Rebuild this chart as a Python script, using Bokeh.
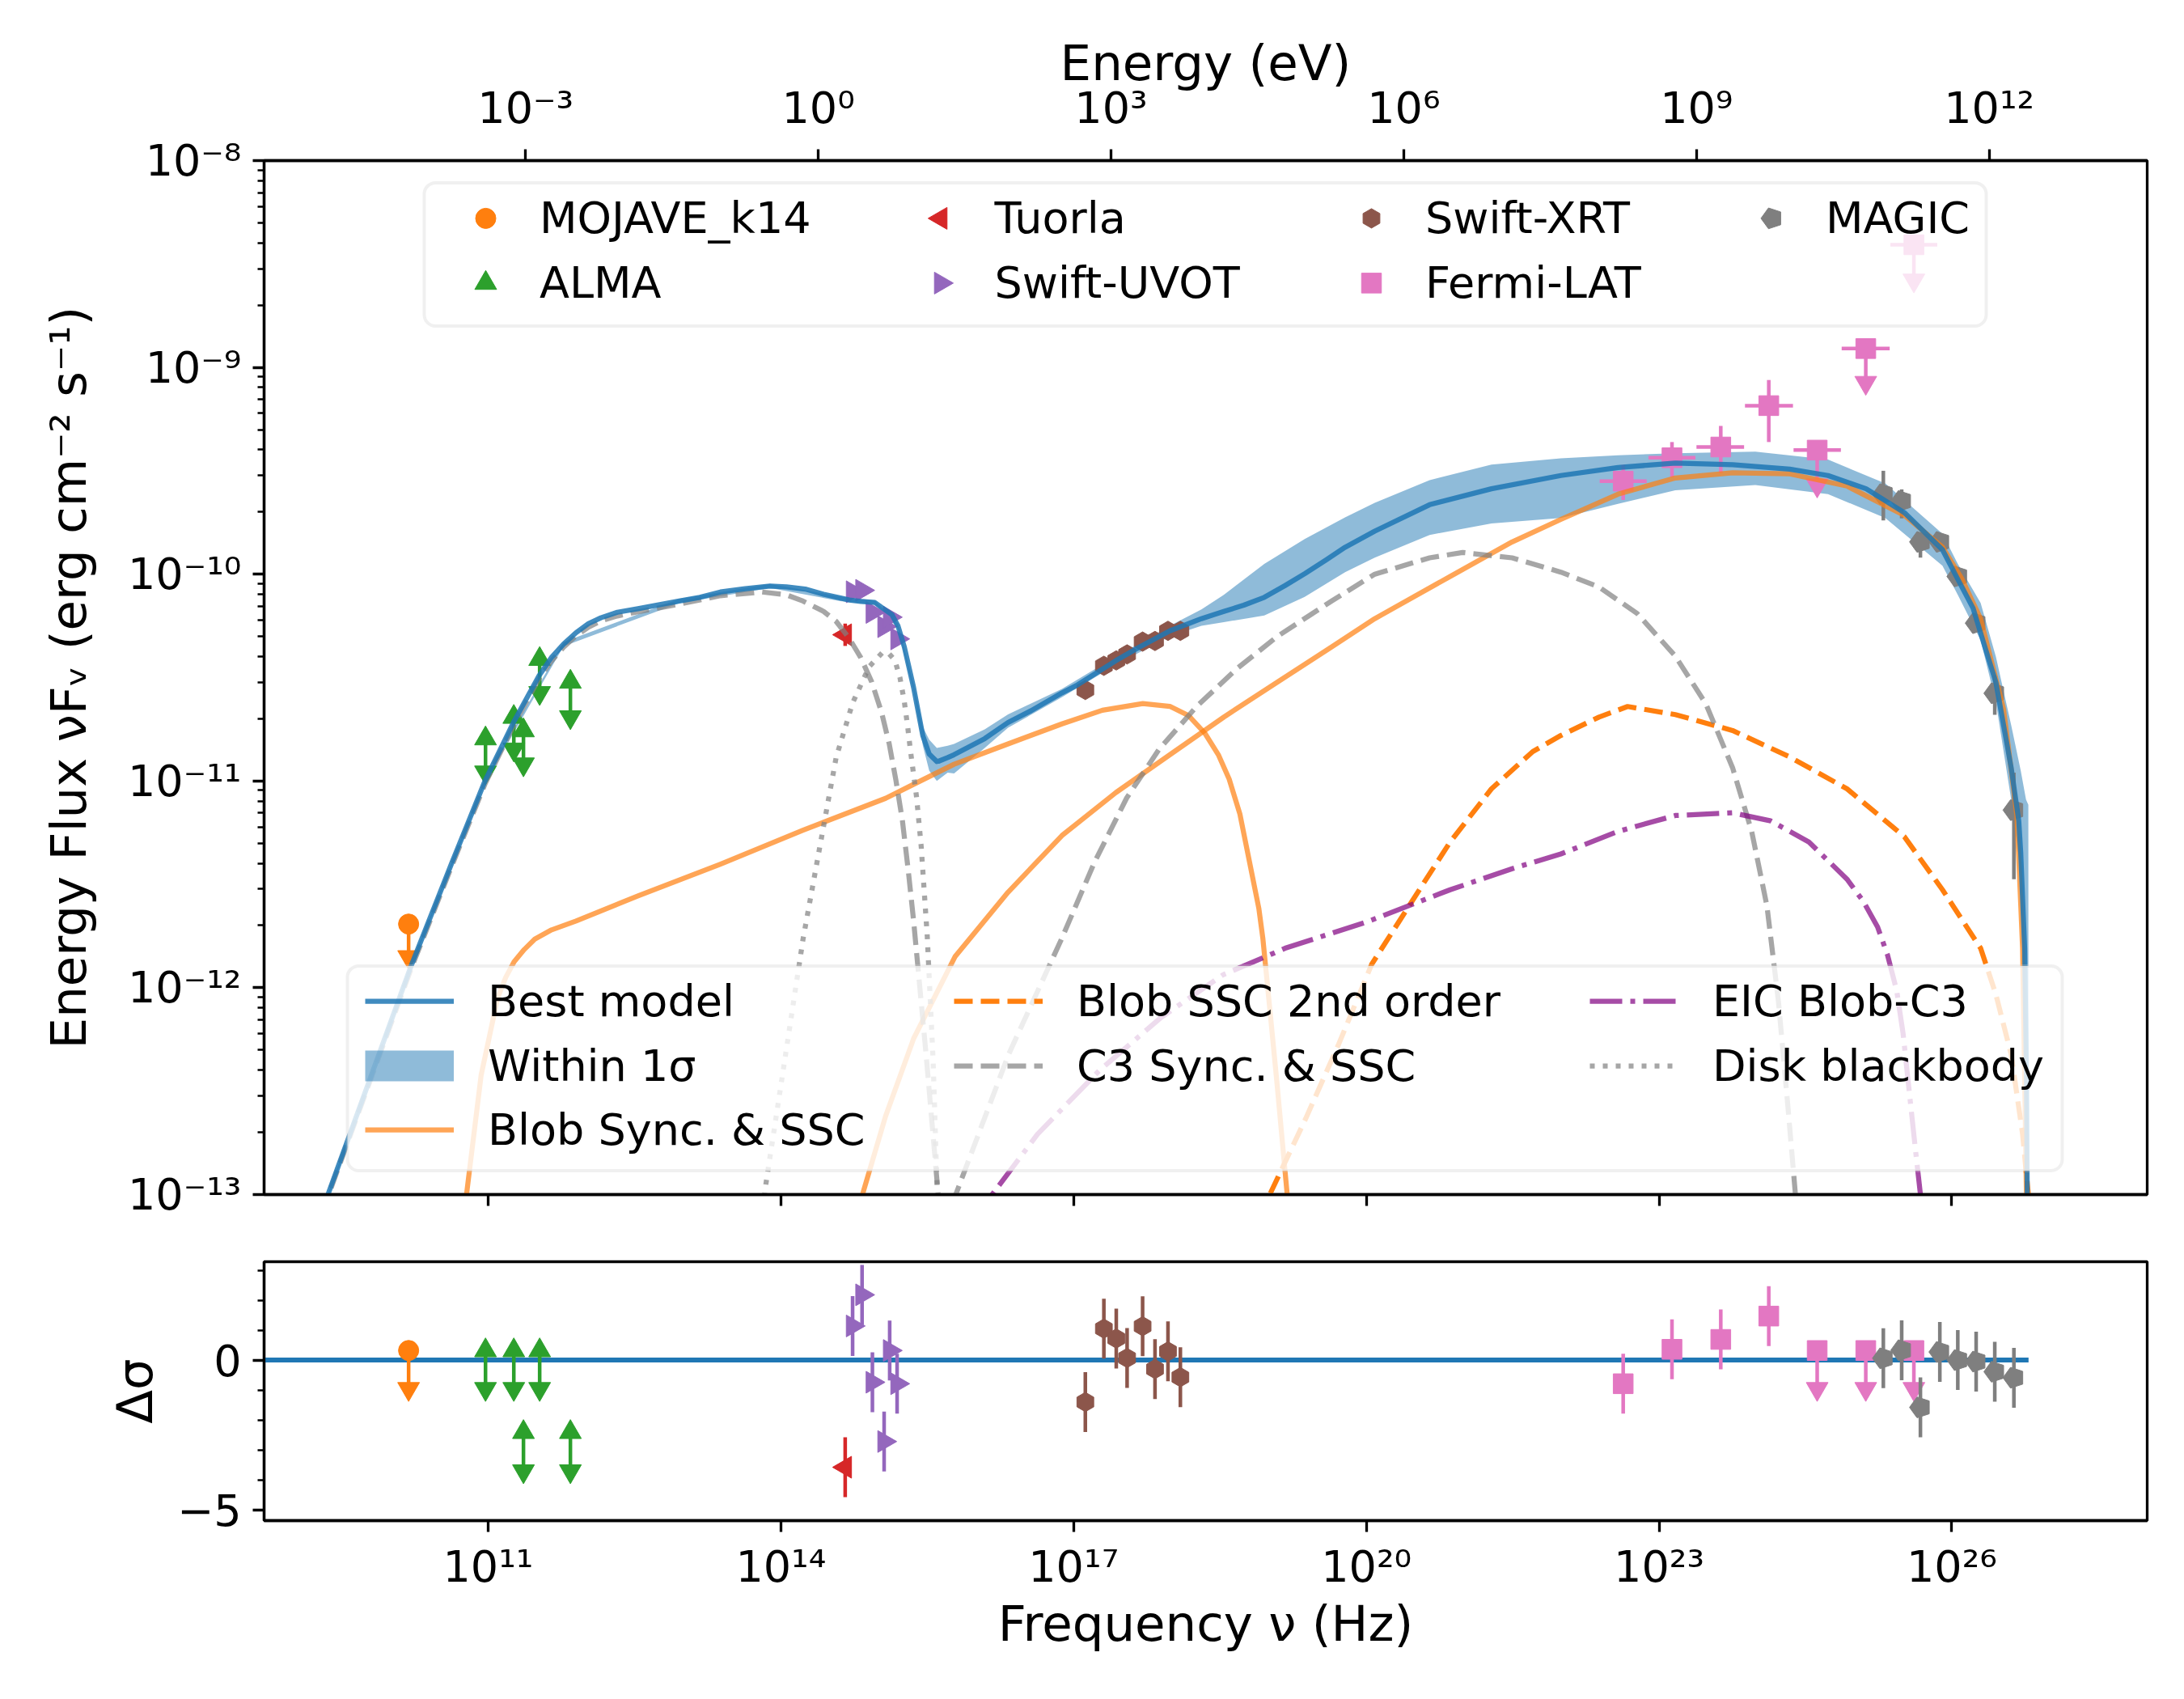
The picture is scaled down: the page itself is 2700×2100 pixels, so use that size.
import math
from bokeh.plotting import figure
from bokeh.layouts import column
from bokeh.models import (Range1d, LogScale, LogAxis, FixedTicker, CustomJSTickFormatter,
                          Legend, LegendItem, BoxAnnotation)
from bokeh.embed import file_html
from bokeh.resources import INLINE

# ------------------------------------------------------------------
# Observations: log10(nu / Hz), log10(nuFnu / erg cm^-2 s^-1)
# ------------------------------------------------------------------
mojave_lognu = [10.185]
mojave_logf = [-11.692]
mojave_logf_ulend = [-11.851]

alma_lognu = [10.973, 11.263, 11.362, 11.528, 11.843]
alma_logf = [-10.795, -10.691, -10.756, -10.411, -10.521]
alma_logf_ulend = [-10.958, -10.847, -10.919, -10.574, -10.691]

tuorla_lognu = [14.659]
tuorla_logf = [-10.293]
tuorla_logf_lo = [-10.347]
tuorla_logf_hi = [-10.239]

uvot_lognu = [14.735, 14.832, 14.938, 15.058, 15.115, 15.191]
uvot_logf = [-10.085, -10.078, -10.185, -10.254, -10.208, -10.313]

xrt_lognu = [17.120, 17.310, 17.437, 17.548, 17.707, 17.834, 17.967, 18.094]
xrt_logf = [-10.560, -10.443, -10.417, -10.388, -10.326, -10.323, -10.274, -10.274]

fermi_lognu = [22.632, 23.132, 23.632, 24.124, 24.620, 25.118, 25.611]
fermi_lognu_lo = [22.391, 22.891, 23.383, 23.880, 24.378, 24.871, 25.370]
fermi_lognu_hi = [22.873, 23.372, 23.871, 24.372, 24.863, 25.363, 25.851]
fermi_logf = [-9.550, -9.437, -9.385, -9.185, -9.400, -8.909, -8.407]
fermi_logf_lo = [-9.641, -9.531, -9.511, -9.361, -9.570, -9.074, -8.579]
fermi_logf_hi = [-9.472, -9.361, -9.283, -9.061, -9.400, -8.909, -8.407]
fermi_is_ul = [False, False, False, False, True, True, True]

magic_lognu = [25.298, 25.486, 25.678, 25.877, 26.061, 26.249, 26.440, 26.636]
magic_logf = [-9.613, -9.646, -9.844, -9.844, -10.011, -10.237, -10.576, -11.141]
magic_logf_lo = [-9.740, -9.730, -9.920, -9.880, -10.040, -10.270, -10.680, -11.475]
magic_logf_hi = [-9.500, -9.590, -9.800, -9.810, -9.980, -10.200, -10.490, -10.960]

# residuals (Delta sigma)
res_mojave = [0.32]
res_mojave_ulend = [-0.96]
res_alma = [0.32, 0.32, -2.41, 0.32, -2.41]
res_alma_ulend = [-0.96, -0.96, -3.71, -0.96, -3.71]
res_tuorla = [-3.58]
res_uvot = [1.14, 2.18, -0.74, -2.72, 0.32, -0.79]
res_xrt = [-1.40, 1.05, 0.72, 0.07, 1.13, -0.30, 0.29, -0.57]
res_fermi = [-0.79, 0.36, 0.69, 1.47, 0.32, 0.32, 0.32]
res_fermi_ulend = [-0.79, 0.36, 0.69, 1.47, -0.96, -0.96, -0.96]
res_magic = [0.06, 0.33, -1.58, 0.27, 0.00, -0.05, -0.39, -0.59]
RES_ERR = 1.0
res_line_lognu = [8.0, 26.786]
res_line_val = [0.0, 0.0]

# ------------------------------------------------------------------
# Model curves
# ------------------------------------------------------------------
best_lognu = [9.30, 9.363, 10.209, 10.632, 10.970, 11.266, 11.520, 11.647, 11.773, 11.901, 12.028, 12.155,
              12.324, 12.535, 12.958, 13.169, 13.381, 13.634, 13.888, 14.057, 14.249, 14.438, 14.629, 14.700,
              14.820, 14.963, 15.138, 15.200, 15.265, 15.360, 15.455, 15.520, 15.598, 15.614, 15.709, 15.775,
              16.089, 16.328, 16.565, 16.880, 17.041, 17.433, 17.675, 17.986, 18.310, 18.539, 18.744, 18.954,
              19.167, 19.368, 19.590, 19.782, 20.086, 20.648, 21.282, 21.993, 22.579, 23.166, 23.753, 24.339,
              24.731, 25.122, 25.513, 25.904, 26.061, 26.218, 26.334, 26.452, 26.530, 26.608, 26.686, 26.706,
              26.746, 26.765, 26.773, 26.780]
best_logf = [-13.08, -12.994, -11.896, -11.391, -10.997, -10.711, -10.492, -10.404, -10.338, -10.283, -10.239,
             -10.211, -10.184, -10.167, -10.130, -10.112, -10.086, -10.070, -10.057, -10.061, -10.072, -10.097,
             -10.117, -10.125, -10.132, -10.137, -10.196, -10.250, -10.352, -10.548, -10.782, -10.870, -10.906,
             -10.905, -10.887, -10.873, -10.795, -10.717, -10.660, -10.574, -10.535, -10.418, -10.352, -10.274,
             -10.215, -10.180, -10.150, -10.112, -10.055, -9.998, -9.930, -9.870, -9.792, -9.664, -9.587, -9.523,
             -9.484, -9.463, -9.471, -9.492, -9.523, -9.587, -9.702, -9.882, -10.024, -10.165, -10.345, -10.524,
             -10.730, -10.936, -11.193, -11.347, -11.809, -12.451, -13.010, -13.500]

band_lognu = [9.30, 10.209, 10.970, 11.773, 12.958, 13.888, 14.608, 14.963, 15.200, 15.360, 15.455, 15.520,
              15.598, 15.709, 15.775, 16.089, 16.328, 16.880, 17.433, 17.986, 18.310, 18.539, 18.954, 19.368,
              19.782, 20.086, 20.648, 21.282, 21.993, 22.579, 23.166, 23.986, 24.731, 25.318, 25.904, 26.061,
              26.295, 26.452, 26.608, 26.706, 26.760, 26.784, 26.786]
band_logf_lo = [-13.09, -11.906, -11.007, -10.348, -10.140, -10.067, -10.130, -10.147, -10.262, -10.565, -10.830,
                -10.950, -11.000, -10.960, -10.964, -10.840, -10.743, -10.595, -10.438, -10.300, -10.250, -10.232,
                -10.200, -10.110, -9.990, -9.920, -9.810, -9.755, -9.728, -9.660, -9.594, -9.569, -9.613, -9.728,
                -9.959, -10.100, -10.319, -10.620, -11.090, -11.450, -12.600, -13.500, -13.600]
band_logf_hi = [-13.07, -11.886, -10.987, -10.328, -10.120, -10.047, -10.108, -10.127, -10.238, -10.530, -10.740,
                -10.800, -10.840, -10.830, -10.821, -10.750, -10.678, -10.555, -10.398, -10.250, -10.170, -10.100,
                -9.950, -9.830, -9.725, -9.655, -9.545, -9.470, -9.440, -9.425, -9.415, -9.407, -9.446, -9.561,
                -9.805, -9.950, -10.139, -10.400, -10.730, -10.950, -11.090, -11.115, -13.600]

blob_sync_lognu = [10.70, 10.780, 10.928, 11.097, 11.180, 11.266, 11.370, 11.478, 11.650, 11.901, 12.535, 13.381,
                   14.227, 15.073, 15.361, 15.775, 16.328, 16.880, 17.295, 17.709, 17.986, 18.179, 18.345, 18.483,
                   18.594, 18.704, 18.815, 18.898, 18.939, 19.010, 19.082, 19.187, 19.250]
blob_sync_logf = [-13.30, -12.994, -12.423, -12.050, -11.950, -11.874, -11.815, -11.765, -11.720, -11.677, -11.556,
                  -11.402, -11.238, -11.084, -11.016, -10.919, -10.821, -10.724, -10.658, -10.626, -10.639, -10.684,
                  -10.769, -10.873, -10.991, -11.160, -11.421, -11.616, -11.760, -12.100, -12.451, -12.991, -13.300]

blob_ssc_lognu = [14.78, 14.840, 15.073, 15.361, 15.784, 15.941, 16.328, 16.880, 17.433, 17.986, 18.539, 19.091,
                  19.644, 20.086, 20.859, 21.494, 21.993, 22.579, 23.166, 23.753, 24.339, 24.926, 25.513, 25.904,
                  26.100, 26.295, 26.530, 26.667, 26.725, 26.765, 26.775]
blob_ssc_logf = [-13.30, -12.994, -12.621, -12.245, -11.850, -11.760, -11.538, -11.264, -11.056, -10.873, -10.691,
                 -10.521, -10.352, -10.215, -10.011, -9.844, -9.735, -9.613, -9.535, -9.510, -9.515, -9.574, -9.715,
                 -9.869, -10.020, -10.216, -10.653, -11.167, -11.809, -13.010, -13.300]

blob_ssc2_lognu = [18.900, 19.000, 19.379, 19.717, 20.055, 20.351, 20.648, 20.859, 21.282, 21.705, 21.993, 22.384,
                   22.677, 23.166, 23.753, 24.339, 24.926, 25.513, 25.904, 26.295, 26.450, 26.608, 26.725, 26.786,
                   26.800]
blob_ssc2_logf = [-13.110, -13.010, -12.632, -12.272, -11.886, -11.668, -11.449, -11.295, -11.038, -10.858, -10.780,
                  -10.691, -10.640, -10.679, -10.756, -10.884, -11.038, -11.269, -11.526, -11.809, -12.030, -12.323,
                  -12.708, -13.010, -13.300]

c3_sync_lognu = [9.30, 9.363, 10.209, 10.632, 10.970, 11.266, 11.520, 11.647, 11.773, 11.901, 12.028, 12.155,
                 12.324, 12.535, 12.958, 13.381, 13.804, 14.057, 14.227, 14.438, 14.566, 14.700, 14.819, 14.930,
                 15.031, 15.110, 15.179, 15.245, 15.306, 15.361, 15.488, 15.614, 15.640]
c3_sync_logf = [-13.09, -13.003, -11.910, -11.405, -11.012, -10.726, -10.507, -10.420, -10.353, -10.298, -10.256,
                -10.226, -10.202, -10.182, -10.145, -10.104, -10.086, -10.100, -10.130, -10.180, -10.228, -10.310,
                -10.404, -10.520, -10.667, -10.820, -10.997, -11.190, -11.435, -11.680, -12.323, -13.010, -13.200]

c3_ssc_lognu = [15.70, 15.784, 16.333, 16.880, 17.212, 17.544, 17.875, 18.262, 18.676, 19.091, 19.644, 20.086,
                20.648, 20.986, 21.494, 21.993, 22.384, 22.775, 23.166, 23.479, 23.753, 23.949, 24.105, 24.223,
                24.321, 24.399, 24.430]
c3_ssc_logf = [-13.30, -13.010, -12.323, -11.760, -11.395, -11.082, -10.847, -10.639, -10.456, -10.300, -10.130,
               -10.000, -9.921, -9.895, -9.921, -9.990, -10.062, -10.190, -10.396, -10.627, -10.936, -11.244,
               -11.604, -12.066, -12.580, -13.010, -13.200]

eic_lognu = [16.10, 16.165, 16.630, 17.264, 17.898, 18.532, 19.167, 20.013, 20.859, 21.494, 21.993, 22.579,
             23.166, 23.753, 24.144, 24.535, 24.926, 25.090, 25.239, 25.340, 25.435, 25.500, 25.552, 25.631,
             25.690, 25.720]
eic_logf = [-13.20, -13.000, -12.708, -12.400, -12.143, -11.937, -11.809, -11.680, -11.526, -11.424, -11.353,
            -11.244, -11.167, -11.154, -11.193, -11.295, -11.475, -11.580, -11.706, -11.840, -12.014, -12.220,
            -12.451, -12.800, -13.050, -13.250]

disk_lognu = [13.78, 13.846, 14.016, 14.227, 14.396, 14.566, 14.735, 14.904, 15.042, 15.100, 15.169, 15.220,
              15.264, 15.300, 15.327, 15.391, 15.438, 15.500, 15.560, 15.600, 15.620]
disk_logf = [-13.20, -12.950, -12.423, -11.765, -11.326, -10.887, -10.623, -10.448, -10.378, -10.380, -10.417,
             -10.500, -10.613, -10.740, -10.850, -11.080, -11.317, -11.750, -12.350, -12.950, -13.200]

# ticks
flux_major_exp = [-13, -12, -11, -10, -9, -8]
freq_tick_exp = [11, 14, 17, 20, 23, 26]
energy_tick_exp = [-3, 0, 3, 6, 9, 12]
res_major_ticks = [-5, 0]
res_minor_ticks = [-5, -4, -3, -2, -1, 0, 1, 2, 3]


# ------------------------------------------------------------------
def L(a):
    return [10.0 ** v for v in a]


FONT = "DejaVu Sans"
X_LOG_MIN, X_LOG_MAX = 8.704, 28.002
H_EV = 4.135667696e-15
FW, FH1, FH2 = 2328, 1278, 320
BL, BR = 326, 26

C_BLUE = "#1f77b4"
C_ORANGE = "#ff7f0e"
C_GREEN = "#2ca02c"
C_RED = "#d62728"
C_PURPLE = "#9467bd"
C_BROWN = "#8c564b"
C_PINK = "#e377c2"
C_GRAY = "#7f7f7f"

SUP_JS = """
const e = Math.round(Math.log10(tick));
const s = "\u2070\u00b9\u00b2\u00b3\u2074\u2075\u2076\u2077\u2078\u2079";
let out = "";
for (const c of String(Math.abs(e))) { out += s[parseInt(c)]; }
return "10" + (e < 0 ? "\u207b" : "") + out;
"""


def style_axis(ax, standoff=14):
    ax.axis_line_width = 3.3
    ax.axis_line_color = "black"
    ax.major_tick_line_width = 3.3
    ax.minor_tick_line_width = 2.5
    ax.major_tick_out = 14
    ax.major_tick_in = 0
    ax.minor_tick_out = 8
    ax.minor_tick_in = 0
    ax.major_label_standoff = standoff
    ax.major_label_text_font = FONT
    ax.major_label_text_font_size = "54px"
    ax.major_label_text_color = "black"
    ax.axis_label_text_font = FONT
    ax.axis_label_text_font_size = "61px"
    ax.axis_label_text_font_style = "normal"
    ax.axis_label_text_color = "black"


def base_fig(y_range, fh, top, bottom, ytype):
    f = figure(x_axis_type="log", y_axis_type=ytype, x_range=x_range, y_range=y_range,
               frame_width=FW, frame_height=fh, min_border_left=BL, min_border_right=BR,
               min_border_top=top, min_border_bottom=bottom,
               output_backend="svg", toolbar_location=None,
               background_fill_color="white", border_fill_color="white")
    f.xgrid.visible = False
    f.ygrid.visible = False
    f.outline_line_color = "black"
    f.outline_line_width = 3.3
    f.outline_line_alpha = 1.0
    return f


def pentagons(f, x, y, color, r=13.5, level="glyph"):
    try:
        return f.ngon(x=x, y=y, radius=r, radius_units="screen", n=5, angle=math.pi / 2,
                      fill_color=color, line_color=color, level=level)
    except Exception:
        return f.scatter(x=x, y=y, marker="hex", size=24, fill_color=color, line_color=color, level=level)


x_range = Range1d(10 ** X_LOG_MIN, 10 ** X_LOG_MAX)

# ================= main panel =================
p = base_fig(Range1d(1e-13, 1e-8), FH1, 198, 43, "log")

lax = p.left[0]
style_axis(lax)
lax.axis_label = "Energy Flux \u03bdF\u1d65 (erg cm\u207b\u00b2 s\u207b\u00b9)"
lax.axis_label_standoff = 35
minors = [k * 10.0 ** e for e in flux_major_exp[:-1] for k in range(2, 10)]
lax.ticker = FixedTicker(ticks=[10.0 ** e for e in flux_major_exp], minor_ticks=minors)
lax.formatter = CustomJSTickFormatter(code=SUP_JS)

bax = p.below[0]
style_axis(bax)
bax.ticker = FixedTicker(ticks=[10.0 ** e for e in freq_tick_exp], minor_ticks=[])
bax.formatter = CustomJSTickFormatter(code="return '';")
bax.major_label_text_font_size = "1px"

p.extra_x_ranges = {"energy": Range1d(10 ** X_LOG_MIN * H_EV, 10 ** X_LOG_MAX * H_EV)}
p.extra_x_scales = {"energy": LogScale()}
eax = LogAxis(x_range_name="energy", axis_label="Energy (eV)")
style_axis(eax, standoff=20)
eax.axis_label_standoff = -14
eax.ticker = FixedTicker(ticks=[10.0 ** e for e in energy_tick_exp], minor_ticks=[])
eax.formatter = CustomJSTickFormatter(code=SUP_JS)
p.add_layout(eax, "above")

# uncertainty band
p.varea(x=L(band_lognu), y1=L(band_logf_lo), y2=L(band_logf_hi), fill_color=C_BLUE, fill_alpha=0.5)

EW = 4.5
# --- data ---
p.segment(x0=L(mojave_lognu), y0=L(mojave_logf), x1=L(mojave_lognu), y1=L(mojave_logf_ulend),
          line_color=C_ORANGE, line_width=EW)
p.scatter(x=L(mojave_lognu), y=L(mojave_logf_ulend), marker="inverted_triangle", size=27,
          fill_color=C_ORANGE, line_color=C_ORANGE)
p.scatter(x=L(mojave_lognu), y=L(mojave_logf), marker="circle", size=25, fill_color=C_ORANGE, line_color=C_ORANGE)

p.segment(x0=L(alma_lognu), y0=L(alma_logf), x1=L(alma_lognu), y1=L(alma_logf_ulend),
          line_color=C_GREEN, line_width=EW)
p.scatter(x=L(alma_lognu), y=L(alma_logf_ulend), marker="inverted_triangle", size=27,
          fill_color=C_GREEN, line_color=C_GREEN)
p.scatter(x=L(alma_lognu), y=L(alma_logf), marker="triangle", size=27, fill_color=C_GREEN, line_color=C_GREEN)

p.segment(x0=L(tuorla_lognu), y0=L(tuorla_logf_lo), x1=L(tuorla_lognu), y1=L(tuorla_logf_hi),
          line_color=C_RED, line_width=EW)
p.scatter(x=L(tuorla_lognu), y=L(tuorla_logf), marker="triangle", size=27, angle=math.pi / 2,
          fill_color=C_RED, line_color=C_RED)

p.scatter(x=L(uvot_lognu), y=L(uvot_logf), marker="triangle", size=27, angle=-math.pi / 2,
          fill_color=C_PURPLE, line_color=C_PURPLE)

p.scatter(x=L(xrt_lognu), y=L(xrt_logf), marker="hex", size=24, angle=math.pi / 2,
          fill_color=C_BROWN, line_color=C_BROWN)

det = [i for i, u in enumerate(fermi_is_ul) if not u]
ul = [i for i, u in enumerate(fermi_is_ul) if u]
p.segment(x0=L(fermi_lognu_lo), y0=L(fermi_logf), x1=L(fermi_lognu_hi), y1=L(fermi_logf),
          line_color=C_PINK, line_width=EW)
p.segment(x0=L([fermi_lognu[i] for i in det]), y0=L([fermi_logf_lo[i] for i in det]),
          x1=L([fermi_lognu[i] for i in det]), y1=L([fermi_logf_hi[i] for i in det]),
          line_color=C_PINK, line_width=EW)
p.segment(x0=L([fermi_lognu[i] for i in ul]), y0=L([fermi_logf[i] for i in ul]),
          x1=L([fermi_lognu[i] for i in ul]), y1=L([fermi_logf_lo[i] for i in ul]),
          line_color=C_PINK, line_width=EW)
p.scatter(x=L([fermi_lognu[i] for i in ul]), y=L([fermi_logf_lo[i] for i in ul]),
          marker="inverted_triangle", size=27, fill_color=C_PINK, line_color=C_PINK)
p.scatter(x=L(fermi_lognu), y=L(fermi_logf), marker="square", size=24.5, fill_color=C_PINK, line_color=C_PINK)

p.segment(x0=L(magic_lognu), y0=L(magic_logf_lo), x1=L(magic_lognu), y1=L(magic_logf_hi),
          line_color=C_GRAY, line_width=EW)
pentagons(p, L(magic_lognu), L(magic_logf), C_GRAY)

# --- model lines ---
LW = 6.25
JN = "round"
r_blob = p.line(L(blob_sync_lognu), L(blob_sync_logf), line_color=C_ORANGE, line_alpha=0.7, line_width=LW,
                line_join=JN)
p.line(L(blob_ssc_lognu), L(blob_ssc_logf), line_color=C_ORANGE, line_alpha=0.7, line_width=LW, line_join=JN)
r_ssc2 = p.line(L(blob_ssc2_lognu), L(blob_ssc2_logf), line_color=C_ORANGE, line_width=LW, line_dash="23 10",
                line_join=JN)
r_c3 = p.line(L(c3_sync_lognu), L(c3_sync_logf), line_color="gray", line_alpha=0.7, line_width=LW,
              line_dash="23 10", line_join=JN)
p.line(L(c3_ssc_lognu), L(c3_ssc_logf), line_color="gray", line_alpha=0.7, line_width=LW, line_dash="23 10",
       line_join=JN)
r_eic = p.line(L(eic_lognu), L(eic_logf), line_color="purple", line_alpha=0.7, line_width=LW,
               line_dash="40 10 6 10", line_join=JN)
r_disk = p.line(L(disk_lognu), L(disk_logf), line_color="gray", line_alpha=0.7, line_width=LW,
                line_dash="6 10", line_join=JN)
r_best = p.line(L(best_lognu), L(best_logf), line_color=C_BLUE, line_alpha=0.85, line_width=LW, line_join=JN)
# legend proxies (drawn outside the visible range)
r_band_proxy = p.line(x=[1e5, 1e6], y=[1e-20, 1e-20], line_color=C_BLUE, line_alpha=0.5, line_width=38)
r_invisible = p.scatter(x=[1e5], y=[1e-20], size=1, alpha=0.0)


# ---- legends ----
def off2nu(ox):
    return 10 ** (X_LOG_MIN + ox / FW * (X_LOG_MAX - X_LOG_MIN))


def off2f(oy):
    return 10 ** (-8 - oy / FH1 * 5)


for (l, r, t, b) in [(198, 2129, 27.4, 204.4), (103, 2223, 995.4, 1248.4)]:
    p.add_layout(BoxAnnotation(left=off2nu(l), right=off2nu(r), top=off2f(t), bottom=off2f(b),
                               fill_color="white", fill_alpha=0.8, line_color="#cccccc",
                               line_width=4, border_radius=14))

GH = 70


def add_item(label, renderer, left_off, center_off, gw, standoff):
    leg = Legend(items=[LegendItem(label=label, renderers=[renderer])],
                 location=(left_off, FH1 - (center_off + GH / 2)),
                 orientation="vertical", glyph_width=gw, glyph_height=GH, label_height=GH,
                 label_standoff=standoff, padding=0, margin=0, spacing=0,
                 border_line_color=None, background_fill_alpha=0.0,
                 label_text_font=FONT, label_text_font_size="54px", label_text_color="black")
    p.add_layout(leg, "center")


# data legend: (label, marker, size, angle, color, left offset, centre offset)
data_items = [("MOJAVE_k14", "circle", 25, 0.0, C_ORANGE, 244, 71.4),
              ("ALMA", "triangle", 27, 0.0, C_GREEN, 244, 151.4),
              ("Tuorla", "triangle", 27, math.pi / 2, C_RED, 806.5, 71.4),
              ("Swift-UVOT", "triangle", 27, -math.pi / 2, C_PURPLE, 806.5, 151.4),
              ("Swift-XRT", "hex", 24, math.pi / 2, C_BROWN, 1339, 71.4),
              ("Fermi-LAT", "square", 24.5, 0.0, C_PINK, 1339, 151.4),
              ("MAGIC", "pentagon", 0, 0.0, C_GRAY, 1834, 71.4)]
for lab, mk, sz, ang, col, lo, co in data_items:
    add_item(lab, r_invisible, lo, co, 60, 37)
    mx, my = [off2nu(lo + 30)], [off2f(co)]
    if mk == "pentagon":
        pentagons(p, mx, my, col, level="overlay")
    else:
        p.scatter(x=mx, y=my, marker=mk, size=sz, angle=ang, fill_color=col, line_color=col, level="overlay")

model_items = [("Best model", r_best, 125, 1039.4), ("Within 1\u03c3", r_band_proxy, 125, 1119.4),
               ("Blob Sync. & SSC", r_blob, 125, 1198.4),
               ("Blob SSC 2nd order", r_ssc2, 853, 1039.4), ("C3 Sync. & SSC", r_c3, 853, 1119.4),
               ("EIC Blob-C3", r_eic, 1639, 1039.4), ("Disk blackbody", r_disk, 1639, 1119.4)]
for lab, rr, lo, co in model_items:
    add_item(lab, rr, lo, co, 110, 42)

# ================= residual panel =================
p2 = base_fig(Range1d(-5.362, 3.286), FH2, 40, 200, "linear")
l2 = p2.left[0]
style_axis(l2)
l2.axis_label = "\u0394\u03c3"
l2.axis_label_standoff = 14
l2.ticker = FixedTicker(ticks=res_major_ticks, minor_ticks=res_minor_ticks)
l2.formatter = CustomJSTickFormatter(code="return tick < 0 ? '\u2212' + Math.abs(tick) : String(tick);")
b2 = p2.below[0]
style_axis(b2, standoff=11)
b2.axis_label = "Frequency \u03bd (Hz)"
b2.axis_label_standoff = 0
b2.ticker = FixedTicker(ticks=[10.0 ** e for e in freq_tick_exp], minor_ticks=[])
b2.formatter = CustomJSTickFormatter(code=SUP_JS)

p2.line(L(res_line_lognu), res_line_val, line_color=C_BLUE, line_width=6)


def res_err(lognu, vals, color):
    p2.segment(x0=L(lognu), y0=[v - RES_ERR for v in vals], x1=L(lognu), y1=[v + RES_ERR for v in vals],
               line_color=color, line_width=EW)


def res_ul(lognu, vals, ends, color):
    p2.segment(x0=L(lognu), y0=vals, x1=L(lognu), y1=ends, line_color=color, line_width=EW)
    p2.scatter(x=L(lognu), y=ends, marker="inverted_triangle", size=27, fill_color=color, line_color=color)


res_ul(mojave_lognu, res_mojave, res_mojave_ulend, C_ORANGE)
p2.scatter(x=L(mojave_lognu), y=res_mojave, marker="circle", size=25, fill_color=C_ORANGE, line_color=C_ORANGE)
res_ul(alma_lognu, res_alma, res_alma_ulend, C_GREEN)
p2.scatter(x=L(alma_lognu), y=res_alma, marker="triangle", size=27, fill_color=C_GREEN, line_color=C_GREEN)
res_err(tuorla_lognu, res_tuorla, C_RED)
p2.scatter(x=L(tuorla_lognu), y=res_tuorla, marker="triangle", size=27, angle=math.pi / 2,
           fill_color=C_RED, line_color=C_RED)
res_err(uvot_lognu, res_uvot, C_PURPLE)
p2.scatter(x=L(uvot_lognu), y=res_uvot, marker="triangle", size=27, angle=-math.pi / 2,
           fill_color=C_PURPLE, line_color=C_PURPLE)
res_err(xrt_lognu, res_xrt, C_BROWN)
p2.scatter(x=L(xrt_lognu), y=res_xrt, marker="hex", size=24, angle=math.pi / 2,
           fill_color=C_BROWN, line_color=C_BROWN)
res_err([fermi_lognu[i] for i in det], [res_fermi[i] for i in det], C_PINK)
res_ul([fermi_lognu[i] for i in ul], [res_fermi[i] for i in ul], [res_fermi_ulend[i] for i in ul], C_PINK)
p2.scatter(x=L(fermi_lognu), y=res_fermi, marker="square", size=24.5, fill_color=C_PINK, line_color=C_PINK)
res_err(magic_lognu, res_magic, C_GRAY)
pentagons(p2, L(magic_lognu), res_magic, C_GRAY)

layout = column(p, p2)
with open("out.html", "w", encoding="utf-8") as fh:
    fh.write(file_html(layout, INLINE))
